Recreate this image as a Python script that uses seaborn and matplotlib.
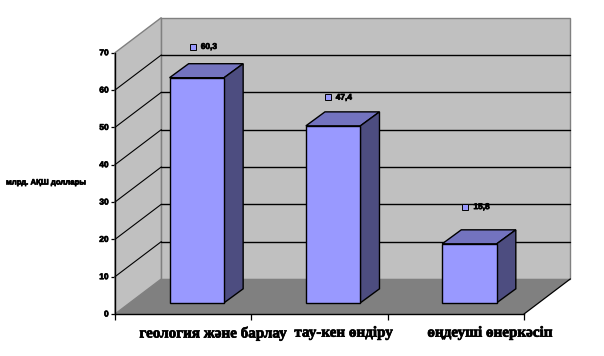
import matplotlib
matplotlib.use('Agg')
import matplotlib.pyplot as plt
import matplotlib.patheffects as pe
from matplotlib.patches import Polygon
import pandas as pd
import seaborn as sns

# Data
categories = ['геология және барлау', 'тау-кен өндіру', 'өңдеуші өнеркәсіп']
values = [60.3, 47.4, 15.8]
value_labels = ['60,3', '47,4', '15,8']
y_ticks = [0, 10, 20, 30, 40, 50, 60, 70]

df = pd.DataFrame({'cat': categories, 'val': values})

sns.set_style('white')
plt.rcParams['font.family'] = ['Liberation Sans', 'DejaVu Sans']
plt.rcParams['text.color'] = 'black'
plt.rcParams['xtick.color'] = 'black'
plt.rcParams['ytick.color'] = 'black'

W, H = 604, 356
fig = plt.figure(figsize=(W / 100, H / 100), dpi=100, facecolor='white')
ax = fig.add_axes([115 / W, 1 - 314 / H, 409 / W, 261.3 / H])

# oblique depth of the box and of the bars, in data units
DX, DY = 0.34, 9.4
BAR_DX, BAR_DY = 0.14, 3.75
SHIFT_X, BASE = 0.1, 3.0
X0, X1, Y1 = -0.5, 2.5, 70

# the reference text is heavy and smeared
heavy = [pe.withStroke(linewidth=0.5, foreground='black')]


def poly(pts, color, edge='none', lw=0.0, z=1):
    ax.add_patch(Polygon(pts, closed=True, facecolor=color, edgecolor=edge,
                         linewidth=lw, zorder=z, clip_on=False))


# Bars (front faces)
sns.barplot(data=df, x='cat', y='val', ax=ax, color='#9999FF', saturation=1,
            width=0.4, bottom=BASE, edgecolor='black', linewidth=1.0,
            zorder=5, clip_on=False)
ax.set_xlim(X0, X1)
ax.set_ylim(0, Y1)
ax.set_xlabel('')
ax.set_ylabel('')
ax.patch.set_alpha(0)

# Walls and floor
poly([(X0 + DX, DY), (X1 + DX, DY), (X1 + DX, Y1 + DY), (X0 + DX, Y1 + DY)],
     '#C0C0C0', '#808080', 1.0, 1)
poly([(X0, 0), (X0 + DX, DY), (X0 + DX, Y1 + DY), (X0, Y1)],
     '#C0C0C0', '#808080', 1.0, 1)
poly([(X0, 0), (X1, 0), (X1 + DX, DY), (X0 + DX, DY)], '#808080', z=1.5)
ax.plot([X1, X1 + DX], [0, DY], color='black', lw=0.9, zorder=2, clip_on=False)

# Gridlines on both walls
for t in y_ticks[1:-1]:
    ax.plot([X0, X0 + DX], [t, t + DY], color='black', lw=0.8, zorder=2,
            clip_on=False)
    ax.plot([X0 + DX, X1 + DX], [t + DY, t + DY], color='black', lw=1.0,
            zorder=2, clip_on=False)

# Move bars back into the box and add the top and side faces
for bar in ax.patches[:]:
    if bar.get_zorder() != 5:
        continue
    bar.set_x(bar.get_x() + SHIFT_X)
    l, r = bar.get_x(), bar.get_x() + bar.get_width()
    b, t = bar.get_y(), bar.get_y() + bar.get_height()
    poly([(l, t), (r, t), (r + BAR_DX, t + BAR_DY), (l + BAR_DX, t + BAR_DY)],
         '#7373BF', 'black', 1.0, 4)
    poly([(r, b), (r + BAR_DX, b + BAR_DY), (r + BAR_DX, t + BAR_DY), (r, t)],
         '#4D4D80', 'black', 1.0, 4)

# Value labels with their small square keys
label_dx = [0.07, 0.06, 0.07]
label_dy = [8.3, 7.6, 9.9]
for i, v in enumerate(values):
    px = i + label_dx[i]
    py = v + BASE + label_dy[i]
    ax.plot([px], [py], marker='s', ms=4.2, mfc='#9999FF', mec='black', mew=0.7,
            zorder=6, clip_on=False)
    ax.annotate(value_labels[i], (px, py), xytext=(5.8, -0.5),
                textcoords='offset points', fontsize=6, fontweight='bold',
                va='center', ha='left', zorder=6, annotation_clip=False,
                path_effects=heavy)

# Axes
sns.despine(ax=ax, top=True, right=True)
for side in ['left', 'bottom']:
    ax.spines[side].set_color('black')
    ax.spines[side].set_linewidth(1.0)
    ax.spines[side].set_zorder(3)
ax.set_yticks(y_ticks)
ax.set_yticklabels([str(t) for t in y_ticks], fontsize=6, fontweight='bold',
                   path_effects=heavy)
ax.tick_params(axis='y', left=True, length=3, width=0.9, pad=1.5)

# category labels sit off centre, ticks mark the category boundaries
label_pos = [0.22, 1.176, 2.25]
ax.set_xticks(label_pos)
ax.set_xticklabels(categories, fontsize=10.9, fontweight='bold',
                   family=['Liberation Serif', 'DejaVu Serif'],
                   path_effects=heavy)
ax.tick_params(axis='x', which='major', bottom=False, length=0, pad=9)
ax.set_xticks([-0.5, 0.5, 1.5, 2.5], minor=True)
ax.tick_params(axis='x', which='minor', bottom=True, length=4, width=0.9)

fig.text(6 / W, 1 - 183 / H, 'млрд. АҚШ доллары', fontsize=5.6, fontweight='bold',
         va='center', ha='left', path_effects=heavy)

fig.savefig('out.png', dpi=100, facecolor='white')
